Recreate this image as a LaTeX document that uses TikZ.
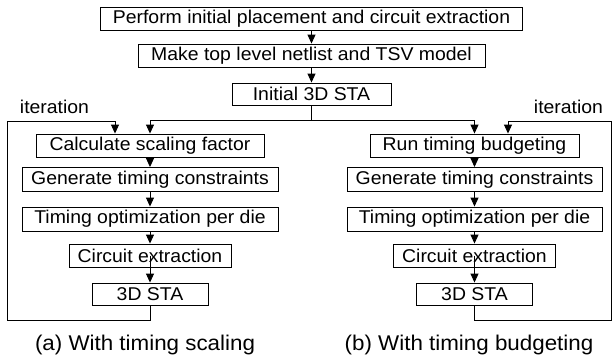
\documentclass[tikz,border=0pt]{standalone}
\usepackage{fontspec}
\setmainfont{Liberation Sans}[FakeStretch=1.05]
\usetikzlibrary{arrows.meta}
\begin{document}
\begin{tikzpicture}[x=1pt,y=-1pt,
  stepbox/.style={draw,line width=0.9pt,inner sep=0pt,
    font=\fontsize{18.5}{20}\selectfont},
  arr/.style={-{Triangle[length=9pt,width=8pt]},line width=0.9pt},
  link/.style={line width=0.9pt},
  caption/.style={anchor=base,font=\fontsize{21.3}{24}\selectfont},
  note/.style={anchor=base,font=\fontsize{18.5}{20}\selectfont}]
\useasboundingbox (0,0) rectangle (613,360);

% common preparation steps
\node[stepbox,minimum width=422pt,minimum height=23pt] (t1) at (311.5,18.5)
  {Perform initial placement and circuit extraction};
\node[stepbox,minimum width=347pt,minimum height=23pt] (t2) at (311.5,55.5)
  {Make top level netlist and TSV model};
\node[stepbox,minimum width=159pt,minimum height=22pt] (t3) at (311.5,94)
  {Initial 3D STA};

% (a) timing scaling flow
\node[stepbox,minimum width=228pt,minimum height=23pt] (L1) at (150,145.5)
  {Calculate scaling factor};
\node[stepbox,minimum width=256pt,minimum height=24pt] (L2) at (150,179.5)
  {Generate timing constraints};
\node[stepbox,minimum width=256pt,minimum height=24pt] (L3) at (150,219)
  {Timing optimization per die};
\node[stepbox,minimum width=162pt,minimum height=23pt] (L4) at (150,255.5)
  {Circuit extraction};
\node[stepbox,minimum width=116pt,minimum height=22pt] (L5) at (150,294)
  {3D STA};

% (b) timing budgeting flow
\node[stepbox,minimum width=209pt,minimum height=23pt] (R1) at (474.5,145.5)
  {Run timing budgeting};
\node[stepbox,minimum width=255pt,minimum height=24pt] (R2) at (474.5,179.5)
  {Generate timing constraints};
\node[stepbox,minimum width=255pt,minimum height=24pt] (R3) at (474.5,219)
  {Timing optimization per die};
\node[stepbox,minimum width=162pt,minimum height=23pt] (R4) at (474.5,255.5)
  {Circuit extraction};
\node[stepbox,minimum width=116pt,minimum height=22pt] (R5) at (474.5,294)
  {3D STA};

% labels
\node[note] (itl) at (54.5,113) {iteration};
\node[note] (itr) at (568.5,113) {iteration};
\node[caption] (capa) at (145,350) {(a) With timing scaling};
\node[caption] (capb) at (469,350) {(b) With timing budgeting};

% main chain
\draw[arr] (t1) -- (t2);
\draw[arr] (t2) -- (t3);
\coordinate (split) at (311.5,120);
\draw[link] (t3) -- (split);
\draw[arr] (split) -| (L1.north);
\draw[arr] (split) -| (R1.north);

\draw[arr] (L1) -- (L2);
\draw[arr] (L2) -- (L3);
\draw[arr] (L3) -- (L4);
\draw[arr] (L4.center) -- (L5);

\draw[arr] (R1) -- (R2);
\draw[arr] (R2) -- (R3);
\draw[arr] (R3) -- (R4);
\draw[arr] (R4.center) -- (R5);

% iteration loops
\coordinate (lb) at (7,320);
\coordinate (lt) at (7,121);
\draw[arr] (L5.south) |- (lb) -- (lt) -| ([xshift=-35pt]L1.north);

\coordinate (rb) at (611,320);
\coordinate (rt) at (611,121);
\draw[arr] (R5.south) |- (rb) -- (rt) -| ([xshift=33.5pt]R1.north);
\end{tikzpicture}
\end{document}
